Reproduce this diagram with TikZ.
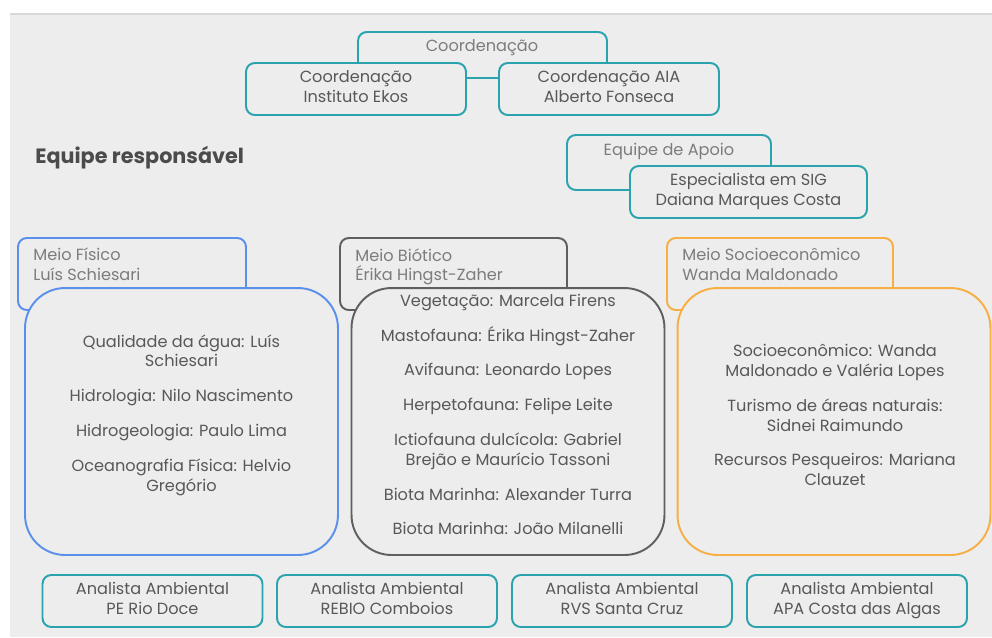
\documentclass[tikz,border=0pt]{standalone}
\usepackage{fontspec}
\setmainfont{Poppins}
\usetikzlibrary{positioning}
\definecolor{canvas}{HTML}{EDEDED}
\definecolor{rule}{HTML}{D8D8D8}
\definecolor{tealline}{HTML}{2BA3AE}
\definecolor{fisico}{HTML}{5B8FEC}
\definecolor{biotico}{HTML}{5F5F5F}
\definecolor{socio}{HTML}{F7AE45}
\definecolor{ink}{HTML}{585858}
\definecolor{inklight}{HTML}{7C7C7C}
\tikzset{
  card/.style   ={draw=tealline, line width=1.1pt, rounded corners=5pt, fill=canvas,
                  minimum width=4.4cm, minimum height=1.04cm, align=center,
                  text=ink, font=\fontsize{9.2}{11.3}\selectfont, inner sep=1pt,
                  execute at begin node=\rule{0pt}{12pt},
                  execute at end node=\rule[-2.6pt]{0pt}{0pt}},
  % header frames, partly hidden by the boxes drawn over them
  head/.style   ={draw=tealline, line width=1.1pt, rounded corners=5pt, fill=canvas,
                  minimum height=1.44cm},
  headtxt/.style={text=inklight, font=\fontsize{9.2}{11.3}\selectfont, inner sep=0pt, align=left},
  area/.style   ={line width=1.1pt, rounded corners=0.8cm, fill=canvas,
                  minimum width=6.26cm, minimum height=5.34cm},
  areatxt/.style={align=center, text=ink, font=\fontsize{9.2}{11.3}\selectfont, inner sep=0pt},
  title/.style  ={font=\fontsize{11.8}{14}\selectfont\bfseries, text=ink!85!black, inner sep=0pt},
}

\begin{document}
\begin{tikzpicture}[x=0.02cm, y=-0.02cm]
    \useasboundingbox (0,0) rectangle (992,637);
    \fill[canvas] (10,13) rectangle (992,637);
    \draw[rule, line width=1.2pt] (10,14) -- (992,14);

    % coordination: the header's lower edge shows between the two boxes
    \node[head, minimum width=4.98cm, minimum height=0.92cm] (coordH) at (482.5,55) {};
    \node[headtxt] (coordT) at (482,48) {Coordenação};
    \node[card] (ekos) at (356,89)  {Coordenação\\Instituto Ekos};
    \node[card] (aia)  at (609,89)  {Coordenação AIA\\Alberto Fonseca};

    \node[title, anchor=west] (team) at (35,158) {Equipe responsável};

    % support
    \node[head, minimum width=4.08cm, minimum height=1.1cm] (apoioH) at (669,162.5) {};
    \node[headtxt] (apoioT) at (669,151) {Equipe de Apoio};
    \node[card, minimum width=4.74cm] (sig) at (748.5,192) {Especialista em SIG\\Daiana Marques Costa};

    % the three areas
    \node[head, draw=fisico,  minimum width=4.56cm] (fisH) at (132,274)   {};
    \node[head, draw=biotico, minimum width=4.54cm] (bioH) at (453.5,274) {};
    \node[head, draw=socio,   minimum width=4.52cm] (socH) at (780,274)   {};
    \node[headtxt, anchor=north west] (fisT) at (33,248)  {Meio Físico\\Luís Schiesari};
    \node[headtxt, anchor=north west] (bioT) at (355,248) {Meio Biótico\\Érika Hingst-Zaher};
    \node[headtxt, anchor=north west] (socT) at (682,248) {Meio Socioeconômico\\Wanda Maldonado};

    \node[area, draw=fisico]  (fis) at (181.5,421.5) {};
    \node[area, draw=biotico] (bio) at (508,421.5)   {};
    \node[area, draw=socio]   (soc) at (834,421.5)   {};
    \node[areatxt] (fisL) at (181.5,415)
      {Qualidade da água: Luís\\Schiesari\\[8.5pt]
       Hidrologia: Nilo Nascimento\\[8.5pt]
       Hidrogeologia: Paulo Lima\\[8.5pt]
       Oceanografia Física: Helvio\\Gregório};
    \node[areatxt] (bioL) at (508,414.5)
      {Vegetação: Marcela Firens\\[8.5pt]
       Mastofauna: Érika Hingst-Zaher\\[8.5pt]
       Avifauna: Leonardo Lopes\\[8.5pt]
       Herpetofauna: Felipe Leite\\[8.5pt]
       Ictiofauna dulcícola: Gabriel\\Brejão e Maurício Tassoni\\[8.5pt]
       Biota Marinha: Alexander Turra\\[8.5pt]
       Biota Marinha: João Milanelli};
    \node[areatxt] (socL) at (835,415)
      {Socioeconômico: Wanda\\Maldonado e Valéria Lopes\\[8.5pt]
       Turismo de áreas naturais:\\Sidnei Raimundo\\[8.5pt]
       Recursos Pesqueiros: Mariana\\Clauzet};

    % analysts
    \node[card] (pe)    at (152.5,601) {Analista Ambiental\\PE Rio Doce};
    \node[card] (rebio) at (387,601)   {Analista Ambiental\\REBIO Comboios};
    \node[card] (rvs)   at (622,601)   {Analista Ambiental\\RVS Santa Cruz};
    \node[card] (apa)   at (857,601)   {Analista Ambiental\\APA Costa das Algas};
  \end{tikzpicture}
\end{document}
